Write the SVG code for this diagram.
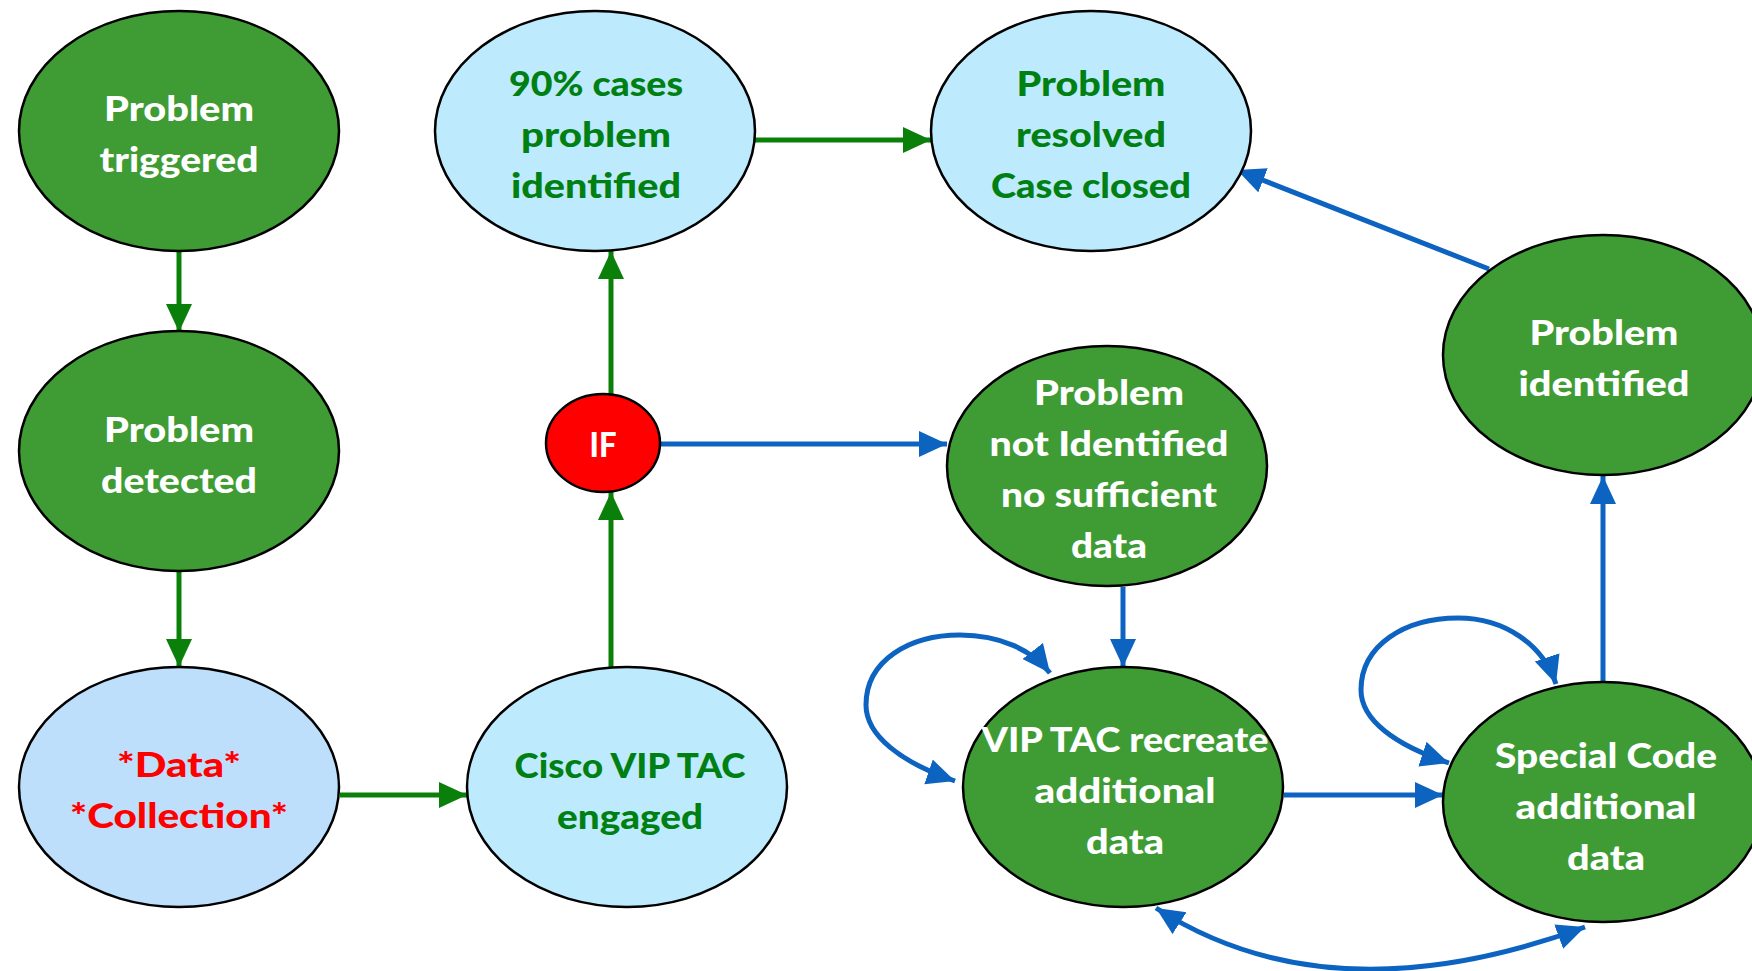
<svg xmlns="http://www.w3.org/2000/svg" width="1752" height="971" viewBox="0 0 1752 971">
<style>
  .node { stroke: #000; stroke-width: 2.5; }
  .green { fill: #3f9c35; }
  .lblue { fill: #bdeafc; }
  .dblue { fill: #bddffb; }
  .red { fill: #ff0000; }
  text { font-family: Lato, "Open Sans", "Liberation Sans", sans-serif; font-weight: 900; font-size: 35px; text-anchor: middle; }
  .tw { fill: #ffffff; }
  .tg { fill: #008012; }
  .tr { fill: #ff0000; }
  .cg { stroke: #0a800a; stroke-width: 5; fill: none; }
  .cb { stroke: #0d63c0; stroke-width: 5; fill: none; }
</style>
<defs>
  <marker id="ag" markerUnits="userSpaceOnUse" markerWidth="30" markerHeight="28" refX="28" refY="13" orient="auto-start-reverse">
    <path d="M0,0 L28,13 L0,26 z" fill="#0a800a"/>
  </marker>
  <marker id="ab" markerUnits="userSpaceOnUse" markerWidth="30" markerHeight="28" refX="28" refY="13" orient="auto-start-reverse">
    <path d="M0,0 L28,13 L0,26 z" fill="#0d63c0"/>
  </marker>
</defs>
<rect width="1752" height="971" fill="#ffffff"/>

<g id="connectors">
  <line class="cg" x1="179" y1="250" x2="179" y2="332" marker-end="url(#ag)"/>
  <line class="cg" x1="179" y1="571" x2="179" y2="667" marker-end="url(#ag)"/>
  <line class="cg" x1="340" y1="795" x2="467" y2="795" marker-end="url(#ag)"/>
  <line class="cg" x1="611" y1="667" x2="611" y2="492" marker-end="url(#ag)"/>
  <line class="cg" x1="611" y1="394" x2="611" y2="251" marker-end="url(#ag)"/>
  <line class="cg" x1="755" y1="140" x2="931" y2="140" marker-end="url(#ag)"/>
  <line class="cb" x1="659" y1="444" x2="947" y2="444" marker-end="url(#ab)"/>
  <line class="cb" x1="1123" y1="587" x2="1123" y2="667" marker-end="url(#ab)"/>
  <line class="cb" x1="1284" y1="795" x2="1443" y2="795" marker-end="url(#ab)"/>
  <line class="cb" x1="1603" y1="683" x2="1603" y2="476" marker-end="url(#ab)"/>
  <line class="cb" x1="1489" y1="269" x2="1237" y2="170" marker-end="url(#ab)"/>
  <path class="cb" d="M955,781 C900,762 866,735 866,705 C866,660 910,635 960,635 C1000,635 1032,650 1050,673" marker-start="url(#ab)" marker-end="url(#ab)"/>
  <path class="cb" d="M1449,763 C1395,745 1361,720 1361,690 C1361,645 1405,618 1458,618 C1505,618 1543,645 1556,684" marker-start="url(#ab)" marker-end="url(#ab)"/>
  <path class="cb" d="M1156,908 Q1330,1020 1585,927" marker-start="url(#ab)" marker-end="url(#ab)"/>
</g>

<g id="n-triggered">
  <ellipse class="node green" cx="179" cy="131" rx="160" ry="120"/>
  <text class="tw" x="179" y="121" textLength="150" lengthAdjust="spacingAndGlyphs">Problem</text>
  <text class="tw" x="179" y="172" textLength="159" lengthAdjust="spacingAndGlyphs">triggered</text>
</g>
<g id="n-detected">
  <ellipse class="node green" cx="179" cy="451" rx="160" ry="120"/>
  <text class="tw" x="179" y="442" textLength="150" lengthAdjust="spacingAndGlyphs">Problem</text>
  <text class="tw" x="179" y="493" textLength="156" lengthAdjust="spacingAndGlyphs">detected</text>
</g>
<g id="n-data">
  <ellipse class="node dblue" cx="179" cy="787" rx="160" ry="120"/>
  <text class="tr" x="179" y="777" textLength="124" lengthAdjust="spacingAndGlyphs">*Data*</text>
  <text class="tr" x="179" y="828" textLength="218" lengthAdjust="spacingAndGlyphs">*Collection*</text>
</g>
<g id="n-cisco">
  <ellipse class="node lblue" cx="627" cy="787" rx="160" ry="120"/>
  <text class="tg" x="630" y="778" textLength="231" lengthAdjust="spacingAndGlyphs">Cisco VIP TAC</text>
  <text class="tg" x="630" y="829" textLength="146" lengthAdjust="spacingAndGlyphs">engaged</text>
</g>
<g id="n-if">
  <ellipse class="node red" cx="603" cy="443" rx="57" ry="49"/>
  <text class="tw" x="603" y="457" textLength="27" lengthAdjust="spacingAndGlyphs">IF</text>
</g>
<g id="n-90">
  <ellipse class="node lblue" cx="595" cy="131" rx="160" ry="120"/>
  <text class="tg" x="596" y="96" textLength="174" lengthAdjust="spacingAndGlyphs">90% cases</text>
  <text class="tg" x="596" y="147" textLength="150" lengthAdjust="spacingAndGlyphs">problem</text>
  <text class="tg" x="596" y="198" textLength="170" lengthAdjust="spacingAndGlyphs">identified</text>
</g>
<g id="n-resolved">
  <ellipse class="node lblue" cx="1091" cy="131" rx="160" ry="120"/>
  <text class="tg" x="1091" y="96" textLength="149" lengthAdjust="spacingAndGlyphs">Problem</text>
  <text class="tg" x="1091" y="147" textLength="150" lengthAdjust="spacingAndGlyphs">resolved</text>
  <text class="tg" x="1091" y="198" textLength="200" lengthAdjust="spacingAndGlyphs">Case closed</text>
</g>
<g id="n-notidentified">
  <ellipse class="node green" cx="1107" cy="466" rx="160" ry="120"/>
  <text class="tw" x="1109" y="405" textLength="150" lengthAdjust="spacingAndGlyphs">Problem</text>
  <text class="tw" x="1109" y="456" textLength="239" lengthAdjust="spacingAndGlyphs">not Identified</text>
  <text class="tw" x="1109" y="507" textLength="216" lengthAdjust="spacingAndGlyphs">no sufficient</text>
  <text class="tw" x="1109" y="558" textLength="76" lengthAdjust="spacingAndGlyphs">data</text>
</g>
<g id="n-recreate">
  <ellipse class="node green" cx="1123" cy="787" rx="160" ry="120"/>
  <text class="tw" x="1125" y="752" textLength="287" lengthAdjust="spacingAndGlyphs">VIP TAC recreate</text>
  <text class="tw" x="1125" y="803" textLength="181" lengthAdjust="spacingAndGlyphs">additional</text>
  <text class="tw" x="1125" y="854" textLength="78" lengthAdjust="spacingAndGlyphs">data</text>
</g>
<g id="n-special">
  <ellipse class="node green" cx="1603" cy="802" rx="160" ry="120"/>
  <text class="tw" x="1606" y="768" textLength="222" lengthAdjust="spacingAndGlyphs">Special Code</text>
  <text class="tw" x="1606" y="819" textLength="181" lengthAdjust="spacingAndGlyphs">additional</text>
  <text class="tw" x="1606" y="870" textLength="78" lengthAdjust="spacingAndGlyphs">data</text>
</g>
<g id="n-identified">
  <ellipse class="node green" cx="1603" cy="355" rx="160" ry="120"/>
  <text class="tw" x="1604" y="345" textLength="149" lengthAdjust="spacingAndGlyphs">Problem</text>
  <text class="tw" x="1604" y="396" textLength="171" lengthAdjust="spacingAndGlyphs">identified</text>
</g>
</svg>
